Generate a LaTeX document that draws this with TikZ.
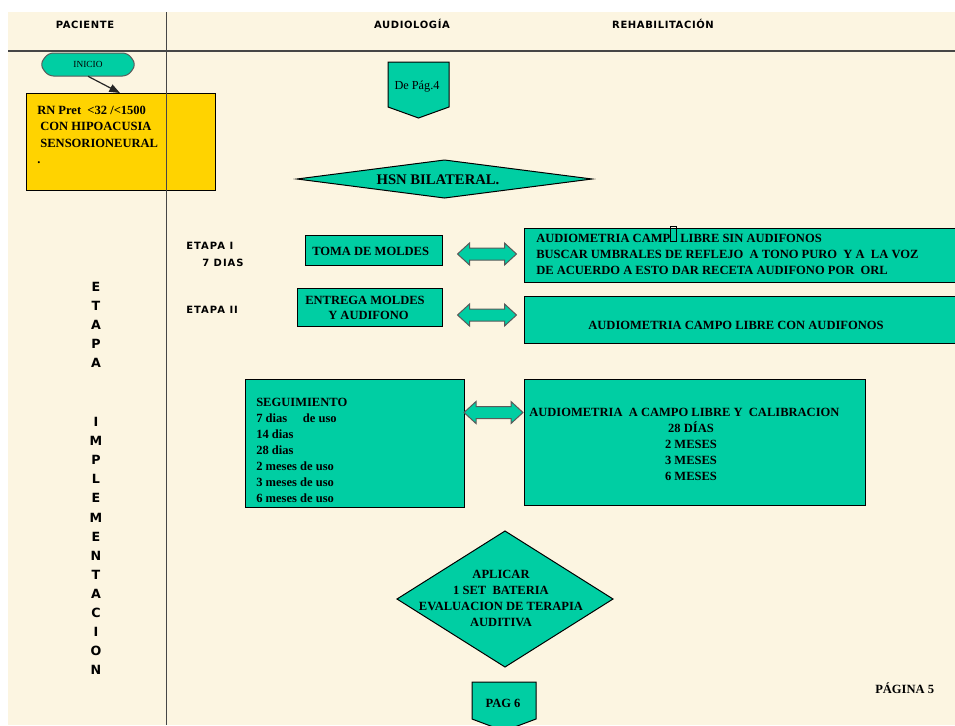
\documentclass[tikz,border=0pt]{standalone}
\usepackage{fontspec}
\setmainfont{Liberation Serif}
\newfontfamily\headsans[LetterSpace=6]{DejaVu Sans}
\newfontfamily\stagesans[LetterSpace=10]{DejaVu Sans}
\usetikzlibrary{arrows.meta}
\definecolor{parch}{RGB}{252,245,225}
\definecolor{aqua}{RGB}{0,206,163}
\definecolor{gold}{RGB}{255,211,0}
\definecolor{rulegray}{RGB}{70,70,70}
\definecolor{arrowedge}{RGB}{90,90,90}

\begin{document}
\begin{tikzpicture}[x=0.75pt,y=-0.75pt,
  box/.style={draw=black, line width=0.75pt, fill=aqua},
  goldbox/.style={draw=black, line width=0.75pt, fill=gold},
  btxt/.style={inner sep=0pt, text height=6.2pt, text depth=0pt,
    font=\bfseries\fontsize{9.4}{12}\selectfont},
  rtxt/.style={inner sep=0pt, text height=6.2pt, text depth=0pt,
    font=\fontsize{9.2}{12}\selectfont},
  headtxt/.style={inner sep=0pt, text height=5.5pt, text depth=0pt,
    font=\headsans\bfseries\fontsize{7.5}{9}\selectfont},
  stagetxt/.style={inner sep=0pt, text height=5.5pt, text depth=0pt,
    font=\stagesans\bfseries\fontsize{7.5}{9}\selectfont},
  vletter/.style={inner sep=0pt, text height=6.8pt, text depth=0pt,
    font=\stagesans\bfseries\fontsize{9.5}{9}\selectfont},
  dbl/.pic={\draw[fill=aqua, draw=arrowedge, line width=0.75pt]
    (-29.5,0) -- (-17.5,-11) -- (-17.5,-6) -- (17.5,-6) -- (17.5,-11)
    -- (29.5,0) -- (17.5,11) -- (17.5,6) -- (-17.5,6) -- (-17.5,11) -- cycle;}
]
\useasboundingbox (0,0) rectangle (955,725);
\begin{scope}
\clip (0,0) rectangle (955,725);

% page background
\fill[white] (0,0) rectangle (955,725);
\fill[parch] (8,12) rectangle (955,725);

% column headings
\node[headtxt] (hpac) at (85,25) {PACIENTE};
\node[headtxt] (haud) at (412,25) {AUDIOLOGÍA};
\node[headtxt] (hreh) at (663,25) {REHABILITACIÓN};
\draw[rulegray, line width=0.9pt] (8,51) -- (955,51);

% start terminal
\draw[fill=aqua, draw=arrowedge, line width=0.75pt, rounded corners=4pt]
  (40,64.5) -- (48,53) -- (128,53) -- (136,64.5) -- (128,76) -- (48,76) -- cycle;
\node[inner sep=0pt, minimum width=96*0.75pt, minimum height=23*0.75pt,
  font=\fontsize{7}{8}\selectfont] (inicio) at (88,64.5) {INICIO};

% patient box
\draw[goldbox] (26,93) rectangle (215,190);
\coordinate (rnTop) at (120,93);
\node[btxt, anchor=west] (rn1) at (37,110) {RN Pret \ <32 /<1500};
\node[btxt, anchor=west] (rn2) at (37,126.5) {\ CON HIPOACUSIA};
\node[btxt, anchor=west] (rn3) at (37,143) {\ SENSORIONEURAL};
\node[btxt, anchor=west] (rn4) at (37,159.5) {.};
\draw[-{Triangle[length=8pt,width=6pt]}, line width=0.9pt, black!85] (inicio.south) -- (rnTop);

% lane divider
\draw[rulegray, line width=0.9pt] (166.5,12) -- (166.5,725);

% off-page connector from page 4
\draw[box] (388,62) -- (449,62) -- (449,107) -- (418.5,118) -- (388,107) -- cycle;
\node[rtxt] (depag) at (417,85) {De Pág.4};

% decision HSN
\draw[box] (297,179) -- (444.5,160) -- (592,179) -- (444.5,198) -- cycle;
\node[btxt, font=\bfseries\fontsize{11}{12}\selectfont] (hsn) at (438,180) {HSN BILATERAL.};

% stage labels
\node[stagetxt, anchor=west] (et1) at (186,246) {ETAPA I};
\node[stagetxt, anchor=west] (et1d) at (202,263) {7 DIAS};
\node[stagetxt, anchor=west] (et2) at (186,310) {ETAPA II};

% stage I
\draw[box] (305,235) rectangle (442,265);
\node[btxt, anchor=west] (toma) at (312,251) {TOMA DE MOLDES};
\pic (dbl1) at (487,254) {dbl};
\draw[box] (524,228) rectangle (960,282);
\node[btxt, anchor=west] (aud1a) at (536,238) {AUDIOMETRIA CAMP\hbox{\vrule width 0.6pt\vbox{\hrule height 0.6pt\hbox to 4pt{\vrule height 9pt depth 2pt width 0pt\hfil}\hrule height 0.6pt}\vrule width 0.6pt} LIBRE SIN AUDIFONOS};
\node[btxt, anchor=west] (aud1b) at (536,254.5) {BUSCAR UMBRALES DE REFLEJO \ A TONO PURO \ Y A \ LA VOZ};
\node[btxt, anchor=west] (aud1c) at (536,270) {DE ACUERDO A ESTO DAR RECETA AUDIFONO POR \ ORL};

% stage II
\draw[box] (297,288) rectangle (442,326);
\node[btxt, anchor=west] (entr1) at (305,300) {ENTREGA MOLDES};
\node[btxt, anchor=west] (entr2) at (328,315) {Y AUDIFONO};
\pic (dbl2) at (487,315) {dbl};
\draw[box] (524,296) rectangle (960,343);
\node[btxt] (aud2) at (736,325) {AUDIOMETRIA CAMPO LIBRE CON AUDIFONOS};

% follow-up
\draw[box] (245,379) rectangle (464,507);
\foreach \t [count=\i from 0] in {SEGUIMIENTO, 7 dias \quad de uso, 14 dias, 28 dias,
    2 meses de uso, 3 meses de uso, 6 meses de uso}
  \node[btxt, anchor=west] (seg\i) at (256,402+16*\i) {\t};
\pic (dbl3) at (493.5,412.5) {dbl};
\draw[box] (524,379) rectangle (865,505);
\node[btxt, anchor=west] (cal0) at (529,412) {AUDIOMETRIA \ A CAMPO LIBRE Y \ CALIBRACION};
\foreach \t [count=\i from 1] in {28 DÍAS, 2 MESES, 3 MESES, 6 MESES}
  \node[btxt] (cal\i) at (691,412+16*\i) {\t};

% final decision
\draw[box] (397,599) -- (505,531) -- (613,599) -- (505,667) -- cycle;
\foreach \t [count=\i from 0] in {APLICAR, 1 SET \ BATERIA, EVALUACION DE TERAPIA, AUDITIVA}
  \node[btxt] (apl\i) at (501,574+16*\i) {\t};

% off-page connector to page 6
\draw[box] (472,682) -- (536,682) -- (536,719) -- (504,731) -- (472,719) -- cycle;
\node[btxt] (pag6) at (503,703) {PAG 6};
\node[btxt, anchor=west] (pag5) at (875,689) {PÁGINA 5};

% vertical stage title
\foreach \l [count=\i from 0] in {E,T,A,P,A}
  \node[vletter] (va\i) at (96,287+19*\i) {\l};
\foreach \l [count=\i from 0] in {I,M,P,L,E,M,E,N,T,A,C,I,O,N}
  \node[vletter] (vb\i) at (96,422+19.1*\i) {\l};
\end{scope}
\end{tikzpicture}
\end{document}
